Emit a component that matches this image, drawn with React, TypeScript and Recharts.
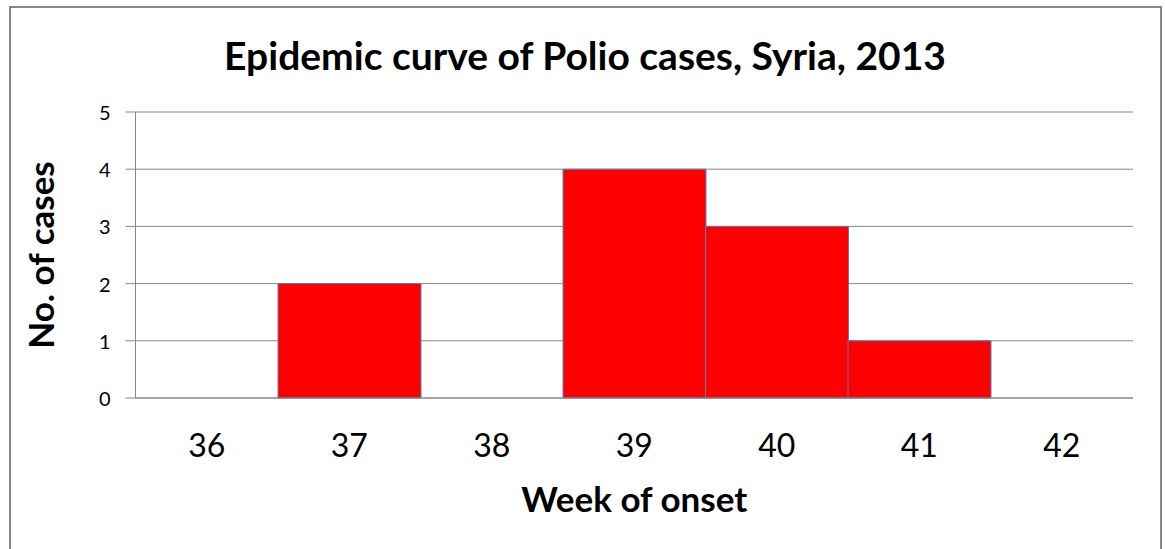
import { BarChart, Bar, XAxis, YAxis, CartesianGrid, Label } from 'recharts'

const weeks = ['36', '37', '38', '39', '40', '41', '42']
const cases = [0, 2, 0, 4, 3, 1, 0]
const yTicks = [0, 1, 2, 3, 4, 5]

const data = weeks.map((w, i) => ({ week: w, cases: cases[i] }))

const FONT = 'Lato, Carlito, Calibri, sans-serif'
const GRID = '#868686'

function YTitle(props: any) {
  const vb = props.viewBox || { x: 0, y: 0, width: 0, height: 0 }
  const x = vb.x + 40
  const y = vb.y + vb.height / 2
  return (
    <text
      x={x}
      y={y}
      transform={`rotate(-90, ${x}, ${y})`}
      textAnchor="middle"
      dominantBaseline="central"
      fontFamily={FONT}
      fontWeight={700}
      fontSize={35}
      fill="#000"
    >
      No. of cases
    </text>
  )
}

function YTick(props: any) {
  const { x, y, payload } = props
  return (
    <text x={x} y={y} textAnchor="end" dominantBaseline="central" fontFamily={FONT} fontSize={20} fill="#000">
      {payload.value}
    </text>
  )
}

export default function App() {
  return (
    <div style={{ position: 'absolute', left: 0, top: 0, width: 1165, height: 549, background: '#fff', overflow: 'hidden' }}>
      <div
        style={{
          position: 'absolute',
          left: 9,
          top: 6,
          width: 1153,
          height: 600,
          border: `2px solid ${GRID}`,
          boxSizing: 'border-box',
        }}
      />
      <svg style={{ position: 'absolute', left: 0, top: 0 }} width={1165} height={100}>
        <text x={585} y={70} textAnchor="middle" fontFamily={FONT} fontWeight={700} fontSize={39} fill="#000">
          Epidemic curve of Polio cases, Syria, 2013
        </text>
      </svg>
      <div style={{ position: 'absolute', left: 0, top: 0 }}>
        <BarChart
          width={1165}
          height={549}
          data={data}
          barCategoryGap={0}
          barGap={0}
          margin={{ top: 112, right: 32, left: 0, bottom: 91 }}
        >
          <CartesianGrid vertical={false} stroke={GRID} strokeWidth={1} />
          <XAxis
            dataKey="week"
            height={60}
            tickLine={false}
            tickSize={0}
            tickMargin={36}
            axisLine={{ stroke: GRID }}
            tick={{ fontSize: 32, fill: '#000', fontFamily: FONT }}
            interval={0}
          >
            <Label
              value="Week of onset"
              position="bottom"
              offset={29}
              style={{ fontSize: 35, fontWeight: 700, fill: '#000', fontFamily: FONT }}
            />
          </XAxis>
          <YAxis
            width={135.5}
            domain={[0, 5]}
            ticks={yTicks}
            interval={0}
            tickSize={10}
            tickMargin={15}
            tickLine={{ stroke: GRID }}
            axisLine={{ stroke: GRID }}
            tick={<YTick />}
          >
            <Label content={<YTitle />} />
          </YAxis>
          <Bar dataKey="cases" fill="#ff0000" stroke="#4f81bd" strokeWidth={1} isAnimationActive={false} />
        </BarChart>
      </div>
    </div>
  )
}
